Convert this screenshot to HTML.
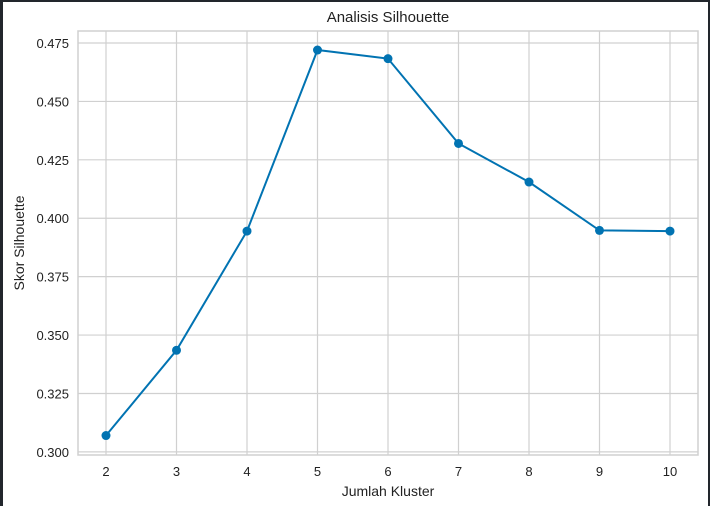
<!DOCTYPE html>
<html><head><meta charset="utf-8"><style>
body{margin:0;background:#fff;}
svg{display:block;font-family:"Liberation Sans",Arial,sans-serif;}
</style></head><body>
<svg id="c" width="710" height="506">
<rect x="0" y="0" width="710" height="506" fill="#fff"/>
<rect x="0" y="0" width="710" height="2" fill="#22262c"/>
<rect x="0" y="0" width="3" height="506" fill="#22262c"/>
<rect x="708" y="0" width="2" height="506" fill="#22262c"/>
<g id="grid"></g>
<rect x="78" y="31" width="620" height="424" fill="none" stroke="#d0d0d0" stroke-width="1.5"/>
<g id="series"></g>
<text x="388" y="22" text-anchor="middle" font-size="15" fill="#222">Analisis Silhouette</text>
<text x="388" y="496" text-anchor="middle" font-size="14" fill="#222">Jumlah Kluster</text>
<text x="24" y="243" text-anchor="middle" font-size="14" fill="#222" transform="rotate(-90 24 243)">Skor Silhouette</text>
</svg>
<script>
const categories=[2,3,4,5,6,7,8,9,10];
const scores=[0.307,0.3435,0.3945,0.472,0.4683,0.432,0.4155,0.3948,0.3945];
const yTicks=[0.300,0.325,0.350,0.375,0.400,0.425,0.450,0.475];
const xTicks=[2,3,4,5,6,7,8,9,10];
const NS="http://www.w3.org/2000/svg";
function xs(v){return 106+(v-2)*(670-106)/8;}
function ys(v){return 43+(0.475-v)*(451.9-43)/0.175;}
const grid=document.getElementById('grid'),ser=document.getElementById('series');
function mk(tag,at,parent){const e=document.createElementNS(NS,tag);for(const k in at)e.setAttribute(k,at[k]);parent.appendChild(e);return e;}
yTicks.forEach(t=>{
  const l=mk('line',{x1:78,x2:698,y1:ys(t),y2:ys(t),stroke:'#d0d0d0','stroke-width':1.2},grid);
  
  
  const tx=mk('text',{x:69,y:ys(t)+5,'text-anchor':'end','font-size':13,fill:'#222'},grid);
  tx.textContent=t.toFixed(3);
  
  
});
xTicks.forEach(t=>{
  const l=mk('line',{x1:xs(t),x2:xs(t),y1:31,y2:455,stroke:'#d0d0d0','stroke-width':1.2},grid);
  
  
  const tx=mk('text',{x:xs(t),y:476,'text-anchor':'middle','font-size':13,fill:'#222'},grid);
  tx.textContent=t;
  
  
});
const pts=categories.map((c,i)=>xs(c)+','+ys(scores[i])).join(' ');
const pl=mk('polyline',{points:pts,fill:'none',stroke:'#0173b2','stroke-width':2},ser);


categories.forEach((c,i)=>{
  const p=mk('circle',{cx:xs(c),cy:ys(scores[i]),r:4.5,fill:'#0173b2'},ser);
  
  
});
</script>
</body></html>
